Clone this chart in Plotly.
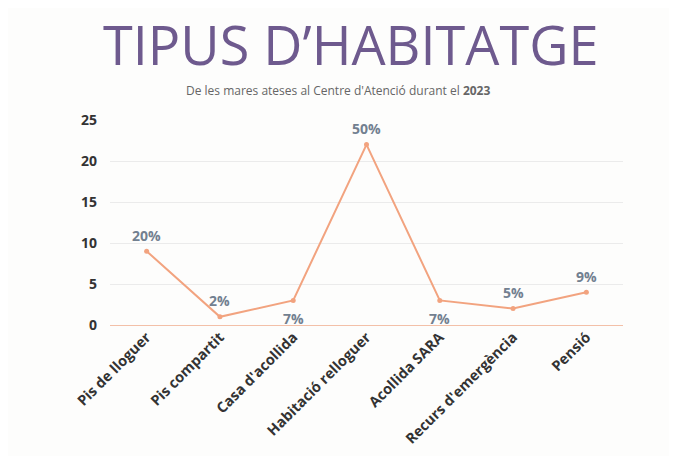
import plotly.graph_objects as go

categories = ["Pis de lloguer", "Pis compartit", "Casa d'acollida", "Habitació relloguer",
              "Acollida SARA", "Recurs d'emergència", "Pensió"]
values = [9, 1, 3, 22, 3, 2, 4]
pct_labels = ["20%", "2%", "7%", "50%", "7%", "5%", "9%"]
label_below = [False, False, True, False, True, False, False]
y_ticks = [0, 5, 10, 15, 20, 25]

W, H = 677, 456
L, R, T, B = 102, 62, 112, 139

fig = go.Figure()
fig.add_trace(go.Scatter(
    x=categories, y=values, mode="lines+markers",
    line=dict(color="#f2a37f", width=2),
    marker=dict(color="#f2a37f", size=5),
    cliponaxis=False, showlegend=False,
))

pw = W - L - R
ph = H - T - B
def py(y):
    return (H - B - y) / ph
def px(x):
    return (x - L) / pw

annotations = []
for c, v, t, below in zip(categories, values, pct_labels, label_below):
    annotations.append(dict(
        x=c, y=v, xref="x", yref="y", text=t, showarrow=False,
        yshift=-18 if below else 16,
        font=dict(family="Open Sans", size=14, color="#728090", weight=700)))

annotations += [
    dict(text="TIPUS D’HABITATGE", x=px(342), y=py(36), xref="paper", yref="paper",
         yanchor="middle", showarrow=False,
         font=dict(family="Open Sans", size=54, color="#6e5a8e")),
    dict(text="De les mares ateses al Centre d'Atenció durant el <b>2023</b>",
         x=px(330), y=py(82), xref="paper", yref="paper", yanchor="middle",
         showarrow=False,
         font=dict(family="Open Sans", size=12, color="#666666")),
]

fig.update_layout(
    width=W, height=H,
    margin=dict(l=L, r=R, t=T, b=B, autoexpand=False),
    paper_bgcolor="#fdfdfc", plot_bgcolor="#fdfdfc",
    font=dict(family="Open Sans", color="#333333"),
    xaxis=dict(type="category", range=[-0.5, len(categories) - 0.5],
               tickangle=-45, tickfont=dict(size=14.5, color="#333333", weight=700),
               showgrid=False, showline=False, ticks="", automargin=False),
    yaxis=dict(range=[0, 25], tickvals=y_ticks, ticks="", automargin=False,
               tickfont=dict(size=14, color="#333333", weight=700),
               showgrid=True, gridcolor="#ebebeb", gridwidth=1,
               zeroline=True, zerolinecolor="#f3c0a8", zerolinewidth=1,
               ticklabelstandoff=12),
    annotations=annotations,
)
fig.write_html("out.html")
